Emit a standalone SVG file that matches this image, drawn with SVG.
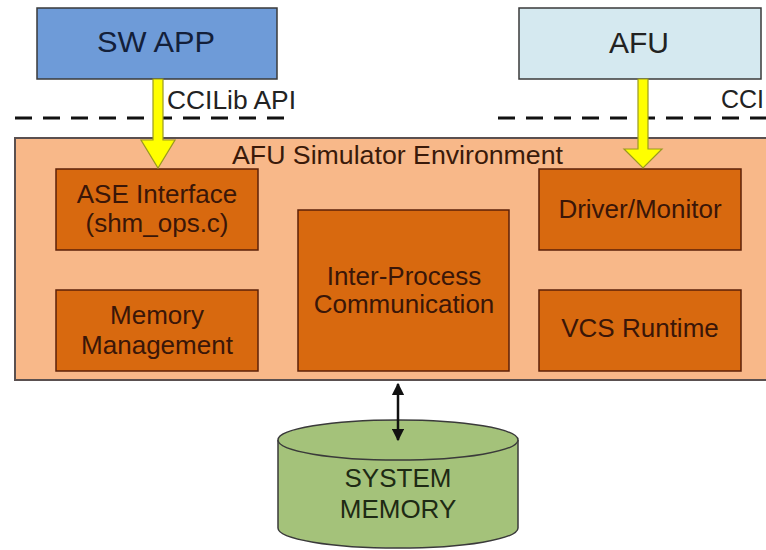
<svg xmlns="http://www.w3.org/2000/svg" width="766" height="550" viewBox="0 0 766 550">
<defs>
<style>
text{font-family:"Liberation Sans",Arial,sans-serif;text-anchor:middle}
.inner{fill:#d8690f;stroke:#5c2008;stroke-width:1.5}
.it{font-size:26px;fill:#3a1608}
.dash{stroke:#111;stroke-width:3;stroke-dasharray:17 11;fill:none}
.yel{fill:#ffff00;stroke:#9a9a20;stroke-width:1.2}
</style>
<marker id="ah" viewBox="0 0 10 10" refX="9" refY="5" markerWidth="5" markerHeight="5" orient="auto-start-reverse">
<path d="M0,0 L10,5 L0,10 z" fill="#111"/>
</marker>
</defs>
<rect width="766" height="550" fill="#ffffff"/>

<g id="dashes">
<line class="dash" x1="15" y1="118" x2="293" y2="118"/>
<line class="dash" x1="498" y1="118" x2="766" y2="118"/>
</g>
<text x="167" y="109" style="text-anchor:start;font-size:25px;fill:#222" textLength="129" lengthAdjust="spacingAndGlyphs">CCILib API</text>
<text x="721" y="108" style="text-anchor:start;font-size:25px;fill:#222">CCI</text>

<g id="sw-app">
<rect x="37" y="8" width="240" height="71" fill="#6e9bd8" stroke="#3a3a3a" stroke-width="1.5"/>
<text x="156" y="52" style="font-size:30px;fill:#13203a" textLength="118" lengthAdjust="spacingAndGlyphs">SW APP</text>
</g>
<g id="afu">
<rect x="519" y="8" width="242" height="71" fill="#d5e9f0" stroke="#3a3a3a" stroke-width="1.5"/>
<text x="639" y="53" style="font-size:30px;fill:#222">AFU</text>
</g>

<g id="afu-sim-env">
<rect x="15" y="138" width="770" height="242" fill="#f8b889" stroke="#5a5050" stroke-width="2"/>
<text x="232" y="164" style="text-anchor:start;font-size:25px;fill:#3a1a0a" textLength="331" lengthAdjust="spacingAndGlyphs">AFU Simulator Environment</text>
</g>

<g id="ase-interface">
<rect class="inner" x="56" y="169" width="202" height="81"/>
<text class="it" x="157" y="203">ASE Interface</text>
<text class="it" x="157" y="232">(shm_ops.c)</text>
</g>
<g id="memory-management">
<rect class="inner" x="56" y="290" width="202" height="81"/>
<text class="it" x="157" y="324">Memory</text>
<text class="it" x="157" y="354">Management</text>
</g>
<g id="inter-process">
<rect class="inner" x="298" y="210" width="211" height="161"/>
<text class="it" x="404" y="285">Inter-Process</text>
<text class="it" x="404" y="313">Communication</text>
</g>
<g id="driver-monitor">
<rect class="inner" x="539" y="169" width="202" height="81"/>
<text class="it" x="640" y="218">Driver/Monitor</text>
</g>
<g id="vcs-runtime">
<rect class="inner" x="539" y="290" width="202" height="81"/>
<text class="it" x="640" y="337">VCS Runtime</text>
</g>

<g id="system-memory">
<path d="M278,440 L278,528 A120,20 0 0 0 518,528 L518,440" fill="#a4c27a" stroke="#3a3a3a" stroke-width="1.5"/>
<ellipse cx="398" cy="440" rx="120" ry="20" fill="#a4c27a" stroke="#3a3a3a" stroke-width="1.5"/>
<text x="398" y="487" style="font-size:26px;fill:#1e2a14">SYSTEM</text>
<text x="398" y="518" style="font-size:26px;fill:#1e2a14">MEMORY</text>
</g>

<g id="connectors">
<path class="yel" d="M153,79 L163,79 L163,140 L175,140 L158,168 L141,140 L153,140 Z"/>
<path class="yel" d="M638,79 L648,79 L648,149 L662,149 L643,168 L624,149 L638,149 Z"/>
<line x1="398" y1="384" x2="398" y2="440" stroke="#111" stroke-width="2.5" marker-start="url(#ah)" marker-end="url(#ah)"/>
</g>
</svg>
